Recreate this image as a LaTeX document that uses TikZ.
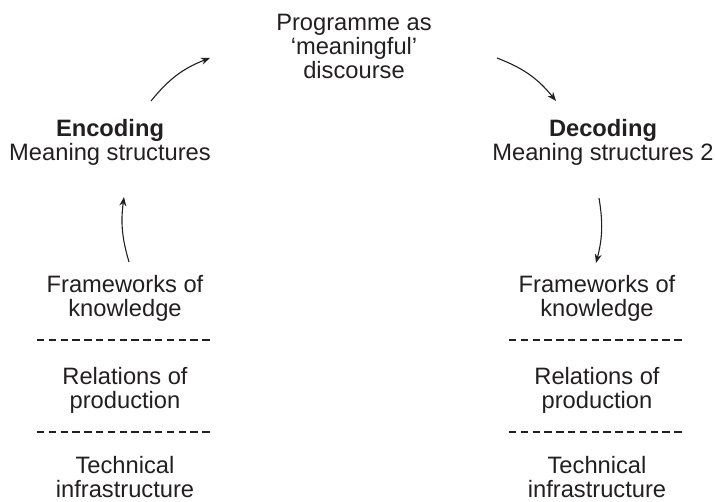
\documentclass[tikz,border=0pt]{standalone}
\usepackage{fontspec}
\setmainfont{Liberation Sans}
\usetikzlibrary{arrows.meta}
\definecolor{ink}{HTML}{231F20}
\tikzset{
  lbl/.style={font=\fontsize{23.7}{24}\selectfont, align=center, inner sep=0pt, text=ink},
  arr/.style={draw=ink, line width=1.1pt, -{Stealth[length=9pt,width=7pt]}},
  sep/.style={draw=ink, line width=1.3pt, dash pattern=on 7.3pt off 4.5pt}
}
\begin{document}
\begin{tikzpicture}[x=1pt,y=1pt]
\useasboundingbox (0,0) rectangle (715,-502);
\node[lbl] (prog) at (354,-46) {Programme as\\`meaningful'\\discourse};
\node[lbl] (enc) at (110,-142) {\textbf{Encoding}\\Meaning structures};
\node[lbl] (dec) at (603,-142) {\textbf{Decoding}\\Meaning structures 2};
\node[lbl] (fkL) at (125,-298) {Frameworks of\\knowledge};
\node[lbl] (rpL) at (125,-390) {Relations of\\production};
\node[lbl] (tiL) at (125,-477) {Technical\\infrastructure};
\node[lbl] (fkR) at (597,-298) {Frameworks of\\knowledge};
\node[lbl] (rpR) at (597,-390) {Relations of\\production};
\node[lbl] (tiR) at (597,-477) {Technical\\infrastructure};
\coordinate (a1s) at (129,-262); \coordinate (a1e) at (124,-197);
\coordinate (a2s) at (151,-101); \coordinate (a2e) at (210,-58);
\coordinate (a3s) at (497,-58);  \coordinate (a3e) at (556,-101);
\coordinate (a4s) at (599,-198); \coordinate (a4e) at (596,-263);
\draw[arr] (a1s) to[bend left=12] (a1e);
\draw[arr] (a2s) to[bend left=15] (a2e);
\draw[arr] (a3s) to[bend left=15] (a3e);
\draw[arr] (a4s) to[bend left=12] (a4e);
\draw[sep] (37,-340) -- (212,-340);
\draw[sep] (37,-432) -- (212,-432);
\draw[sep] (509,-340) -- (684,-340);
\draw[sep] (509,-432) -- (684,-432);
\end{tikzpicture}
\end{document}
